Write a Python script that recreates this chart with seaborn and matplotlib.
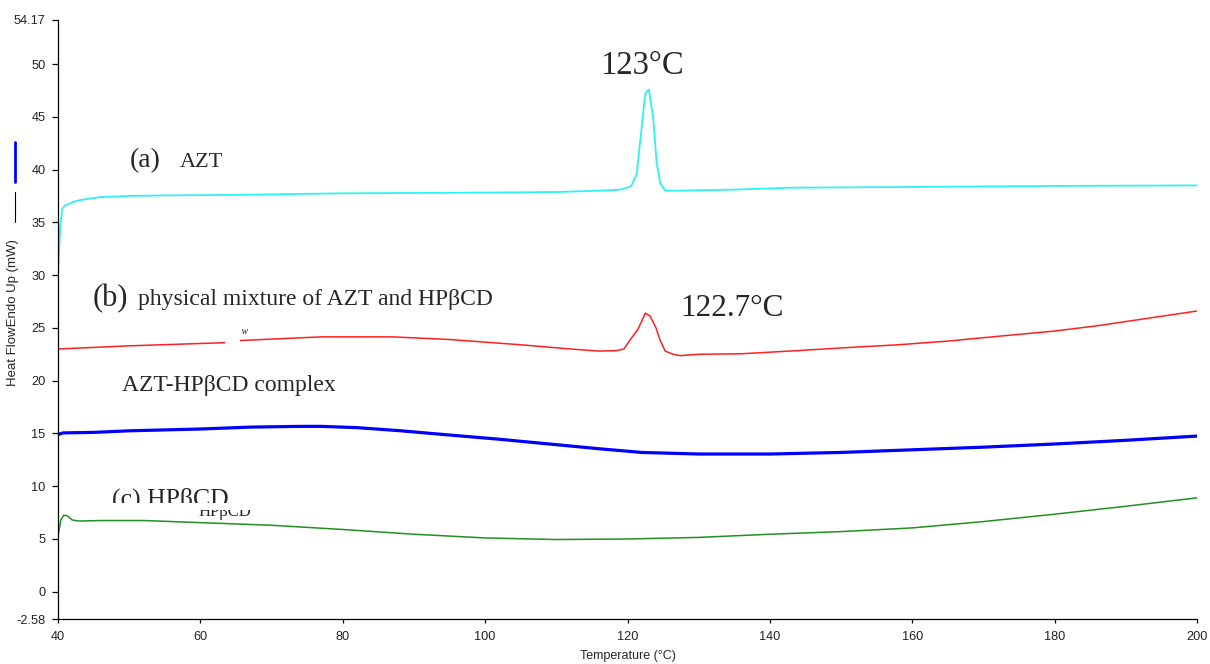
import matplotlib
matplotlib.use("Agg")
import matplotlib.pyplot as plt
from matplotlib.lines import Line2D
from matplotlib.patches import Rectangle
from matplotlib.transforms import Bbox, TransformedBbox
import numpy as np
import pandas as pd
import seaborn as sns

# DSC thermograms: temperature (°C) vs heat flow (mW)
azt_t = [40.0, 40.3, 40.6, 41, 42, 43, 46, 50, 55, 65, 80, 95, 110, 116, 119, 120.5,
         121.3, 121.8, 122.5, 123.0, 123.6, 124.1, 124.6, 125.3, 127, 135, 143, 160, 180, 200]
azt_v = [30.0, 34.5, 36.3, 36.6, 36.9, 37.1, 37.4, 37.5, 37.55, 37.6, 37.75, 37.8, 37.87, 38.0, 38.1, 38.4,
         39.6, 42.8, 47.2, 47.6, 45.0, 40.6, 38.7, 38.0, 38.0, 38.1, 38.28, 38.35, 38.45, 38.5]

pm_t = [40, 50, 63.5, 65.5, 72, 77, 87, 95, 105, 112, 116, 118.5, 119.5, 120.3, 121.5, 122.5,
        123.2, 124.0, 124.6, 125.3, 126.4, 127.4, 130, 136, 144, 150, 158, 165, 172, 180, 186, 193, 200]
pm_v = [23.0, 23.3, 23.6, 23.8, 24.0, 24.15, 24.15, 23.9, 23.4, 23.0, 22.8, 22.85, 23.0, 23.8, 24.9, 26.4,
        26.1, 25.0, 23.8, 22.8, 22.5, 22.37, 22.5, 22.55, 22.85, 23.1, 23.4, 23.75, 24.2, 24.7, 25.2, 25.9, 26.6]

cx_t = [40, 40.7, 45, 50, 60, 67, 74, 77, 82, 88, 95, 102, 109, 116, 122, 130, 140, 150,
        160, 170, 180, 190, 200]
cx_v = [14.9, 15.05, 15.1, 15.25, 15.42, 15.6, 15.67, 15.67, 15.55, 15.26, 14.85, 14.45, 14.0, 13.55, 13.2,
        13.05, 13.05, 13.2, 13.45, 13.7, 14.0, 14.35, 14.75]

hp_t = [40, 40.4, 40.8, 41.3, 42, 43, 46, 52, 60, 70, 80, 90, 100, 110, 120, 130, 140, 150,
        160, 170, 180, 190, 200]
hp_v = [5.3, 6.8, 7.25, 7.2, 6.8, 6.7, 6.75, 6.75, 6.55, 6.3, 5.9, 5.45, 5.1, 4.95, 5.0, 5.15, 5.45, 5.7,
        6.05, 6.65, 7.35, 8.1, 8.9]

y_ticks = [-2.58, 0, 5, 10, 15, 20, 25, 30, 35, 40, 45, 50, 54.17]
y_ticklabels = ["-2.58", "0", "5", "10", "15", "20", "25", "30", "35", "40", "45", "50", "54.17"]
x_ticks = [40, 60, 80, 100, 120, 140, 160, 180, 200]

sns.set_style("ticks")
plt.rcParams["font.family"] = ["Liberation Sans", "DejaVu Sans"]
serif = ["Liberation Serif", "DejaVu Serif"]

fig = plt.figure(figsize=(12.1, 6.64), dpi=100)
ax = fig.add_axes([58 / 1210, 1 - 619 / 664, 1139 / 1210, 599 / 664])

sns.lineplot(x=azt_t, y=azt_v, color="#2ef2f2", lw=1.3, sort=False, estimator=None, ax=ax)
sns.lineplot(x=pm_t, y=pm_v, color="#ff2020", lw=1.1, sort=False, estimator=None, ax=ax)
sns.lineplot(x=cx_t, y=cx_v, color="#0000ff", lw=2.3, sort=False, estimator=None, ax=ax)
sns.lineplot(x=hp_t, y=hp_v, color="#229022", lw=1.1, sort=False, estimator=None, ax=ax)

ax.set_xlim(40, 200)
ax.set_ylim(-2.58, 54.17)
ax.set_xticks(x_ticks)
ax.set_yticks(y_ticks)
ax.set_yticklabels(y_ticklabels)
ax.tick_params(labelsize=9.2, width=0.9, color="black", labelcolor="#222222")
ax.tick_params(axis="y", length=4.5, pad=4.5)
ax.tick_params(axis="x", length=3, pad=6)
for s in ["top", "right"]:
    ax.spines[s].set_visible(False)
for s in ["left", "bottom"]:
    ax.spines[s].set_color("black")
    ax.spines[s].set_linewidth(0.9)

ax.set_xlabel("Temperature (°C)", fontsize=9)
ax.xaxis.set_label_coords(0.5004, -0.052)
ax.set_ylabel("Heat FlowEndo Up (mW)", fontsize=9.5)
ax.yaxis.set_label_coords(-0.0343, 0.512)

# legend marks beside the y label
fig.add_artist(Line2D([15 / 1210, 15 / 1210], [1 - 142 / 664, 1 - 182 / 664], color="#0000ff", lw=2))
fig.add_artist(Line2D([15 / 1210, 15 / 1210], [1 - 192 / 664, 1 - 222 / 664], color="black", lw=0.8))

# annotations
ax.text(122.0, 49.1, "123°C", family=serif, fontsize=23.5, ha="center", va="baseline")
ax.text(127.4, 26.1, "122.7°C", family=serif, fontsize=22.5, ha="left", va="baseline")
ax.text(50.1, 40.2, "(a)", family=serif, fontsize=20, ha="left", va="baseline")
ax.text(57.1, 40.2, "AZT", family=serif, fontsize=16, ha="left", va="baseline")
ax.text(44.9, 27.1, "(b)", family=serif, fontsize=22, ha="left", va="baseline")
ax.text(51.2, 27.2, "physical mixture of AZT and HPβCD", family=serif, fontsize=17,
        ha="left", va="baseline")
ax.text(49.0, 19.05, "AZT-HPβCD complex", family=serif, fontsize=17, ha="left", va="baseline")

# "(c) HPβCD" label, its lower part cut off as in the source figure
tc = ax.text(47.6, 8.2, "(c) HPβCD", family=serif, fontsize=18.5, ha="left", va="baseline")
tc.set_clip_box(TransformedBbox(Bbox.from_extents(40, 8.4, 100, 20), ax.transData))
tc.set_clip_on(True)
tg = ax.text(59.7, 7.2, "HPβCD", family=serif, fontsize=12, ha="left", va="baseline")
tg.set_clip_box(TransformedBbox(Bbox.from_extents(40, 6.0, 100, 7.75), ax.transData))
tg.set_clip_on(True)

# white gap in the red curve and stray glyph
ax.add_patch(Rectangle((63.5, 23.2), 2.1, 1.4, facecolor="white", edgecolor="none", zorder=5))
ax.text(65.7, 24.4, "ᴡ", family=serif, fontsize=7, style="italic", ha="left", va="baseline", zorder=6)

fig.savefig("out.png", dpi=100)
